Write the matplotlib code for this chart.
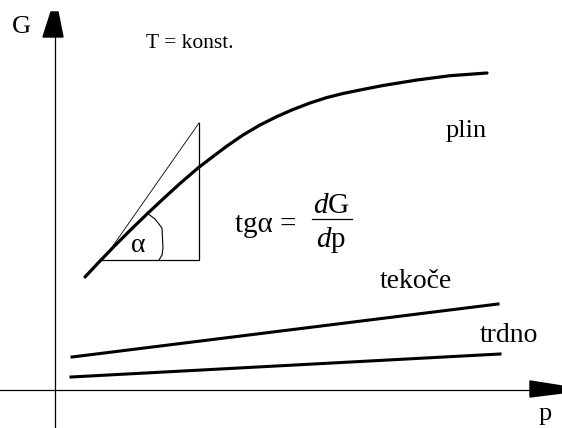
import matplotlib.pyplot as plt
from matplotlib.patches import Polygon

plt.rcParams['font.family'] = ['Liberation Serif', 'DejaVu Serif']
plt.rcParams['mathtext.fontset'] = 'custom'
plt.rcParams['mathtext.rm'] = 'Liberation Serif'
plt.rcParams['mathtext.it'] = 'Liberation Serif:italic'

# drawing units: pixels, y grows downward
plin_x = [85, 100, 115, 130, 147, 163, 180, 198, 213, 227, 243, 260, 277, 293,
          310, 327, 343, 360, 383, 417, 450, 487]
plin_y = [277, 261, 245.5, 230.5, 214, 199, 183.5, 168, 156.5, 146, 135, 125, 116.5,
          109.5, 103, 97.5, 93.5, 90, 85.5, 80, 75.7, 73]
tekoce_x = [72, 498]
tekoce_y = [357, 304]
trdno_x = [71, 500]
trdno_y = [377, 354]
tangent_x = [110, 199]
tangent_y = [250, 123]
triangle_x = [100, 199, 199]
triangle_y = [260, 260, 123]
arc_x = [147, 155, 162, 163, 162, 159]
arc_y = [213, 219, 228, 248, 255, 260]

fig = plt.figure(figsize=(5.62, 4.28), dpi=100)
ax = fig.add_axes([0, 0, 1, 1])
ax.set_xlim(0, 562)
ax.set_ylim(428, 0)
ax.axis('off')

# axes with arrowheads
ax.plot([55, 55], [30, 428], color='black', lw=0.9)
ax.plot([0, 540], [390, 390], color='black', lw=0.9)
ax.add_patch(Polygon([[51, 12], [58, 12], [63, 37], [43, 37]], closed=True, color='black'))
ax.add_patch(Polygon([[530, 381], [562, 386], [562, 393], [530, 397]], closed=True, color='black'))
ax.text(21, 27, 'G', fontsize=19, ha='center', va='center')
ax.text(545, 414, 'p', fontsize=19, ha='center', va='center')

ax.text(146, 43, 'T = konst.', fontsize=15.5, ha='left', va='center')

# curves
ax.plot(plin_x, plin_y, color='black', lw=2.3, solid_capstyle='round',
        solid_joinstyle='round')
ax.plot(tekoce_x, tekoce_y, color='black', lw=2.2)
ax.plot(trdno_x, trdno_y, color='black', lw=2.2)
ax.text(466, 131, 'plin', fontsize=19, ha='center', va='center')
ax.text(416, 282, 'tekoče', fontsize=20, ha='center', va='center')
ax.text(509, 336, 'trdno', fontsize=20, ha='center', va='center')

# tangent triangle
ax.plot(triangle_x, triangle_y, color='black', lw=0.9)
ax.plot(tangent_x, tangent_y, color='black', lw=0.6)
ax.plot(arc_x, arc_y, color='black', lw=0.8)
ax.text(138, 245, 'α', fontsize=20, ha='center', va='center')

# slope formula
ax.text(266, 225, 'tgα =', fontsize=21, ha='center', va='center')
ax.text(331, 206, r'$d$G', fontsize=21, ha='center', va='center')
ax.text(331, 240, r'$d$p', fontsize=21, ha='center', va='center')
ax.plot([312, 352], [219, 219], color='black', lw=0.9)

fig.savefig('out.png', dpi=100)
